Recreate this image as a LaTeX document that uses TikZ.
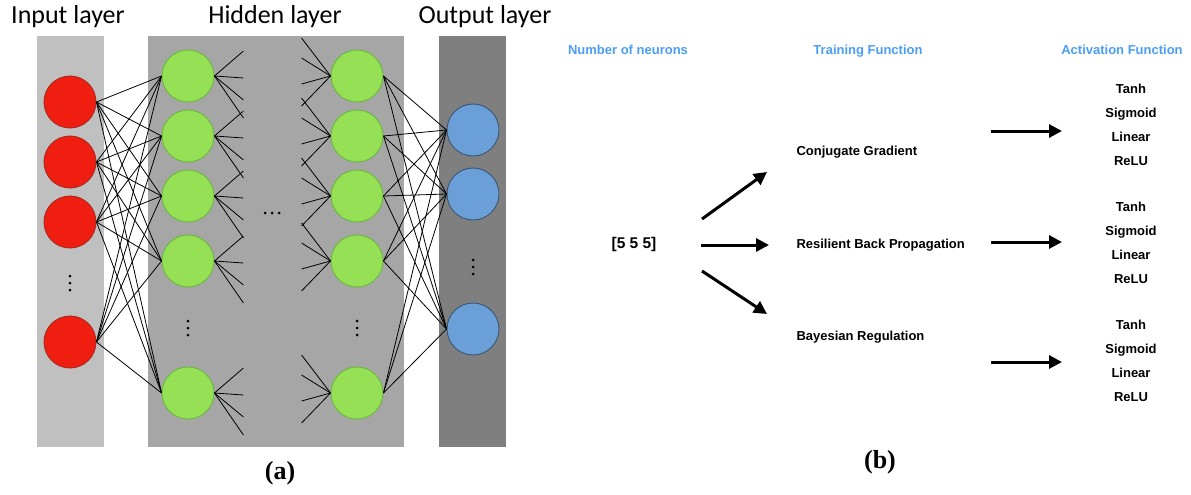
\documentclass[tikz,border=0pt]{standalone}
\usepackage{fontspec}
\usepackage{tikz}
\usetikzlibrary{arrows.meta}
\newfontfamily\carlito{Carlito}
\newfontfamily\arialf{Liberation Sans}
\newfontfamily\serifb{Liberation Serif}
\definecolor{rojo}{RGB}{240,30,16}
\definecolor{rojoborde}{RGB}{170,40,30}
\definecolor{verde}{RGB}{149,224,85}
\definecolor{verdeborde}{RGB}{105,185,60}
\definecolor{azul}{RGB}{106,159,216}
\definecolor{azulborde}{RGB}{60,85,115}
\definecolor{titulo}{RGB}{74,158,245}
\definecolor{grisin}{RGB}{192,192,192}
\definecolor{grishid}{RGB}{166,166,166}
\definecolor{grisout}{RGB}{127,127,127}

\begin{document}
\begin{tikzpicture}[x=1pt,y=-1pt,
% Estilo de las neuronas
neu/.style={circle, inner sep=0pt, minimum size=52pt, line width=0.9pt},
entrada/.style={neu, draw=rojoborde, fill=rojo},
oculta/.style={neu, draw=verdeborde, fill=verde},
salida/.style={neu, draw=azulborde, fill=azul},
% Estilo de los textos
capa/.style={font=\carlito\fontsize{26}{30}\selectfont, anchor=base},
titulo/.style={font=\arialf\bfseries\fontsize{13}{15}\selectfont, text=titulo, anchor=base},
texto/.style={font=\arialf\bfseries\fontsize{13}{15}\selectfont, anchor=base},
subfig/.style={font=\serifb\bfseries\fontsize{26}{30}\selectfont},
% Estilo de las conexiones
con/.style={line width=0.8pt},
% Estilo de las flechas
flecha/.style={-{Triangle[length=13pt,width=13pt]}, line width=3pt},
]
\useasboundingbox (0,0) rectangle (1191,495);

% Capas
\fill[grisin] (37,36) rectangle (104,447);
\fill[grishid] (148,36) rectangle (404,447);
\fill[grisout] (439,36) rectangle (506,447);
\node[capa] (t-in) at (68,24) {Input layer};
\node[capa] (t-hid) at (275,24) {Hidden layer};
\node[capa] (t-out) at (485,24) {Output layer};

% Neuronas
\node[entrada] (in1) at (70,102) {};
\node[entrada] (in2) at (70,162) {};
\node[entrada] (in3) at (70,222) {};
\node[entrada] (in4) at (70,342) {};
\foreach \i/\y in {1/76, 2/136, 3/196, 4/261, 5/393} {
  \node[oculta] (ha\i) at (188,\y) {};
  \node[oculta] (hb\i) at (357,\y) {};
}
\node[salida] (out1) at (473,130) {};
\node[salida] (out2) at (473,194) {};
\node[salida] (out3) at (473,329) {};

% Puntos
\foreach \x/\y in {70/283, 188/328, 357/328, 473/267}
  \foreach \d in {-7,0,7}
    \fill (\x,\y+\d) circle (1.5pt);
\foreach \d in {-7,0,7}
  \fill (272+\d,213) circle (1.5pt);

% Conexiones
\foreach \i in {1,2,3,4}
  \foreach \j in {1,...,5}
    \draw[con] (in\i.east) -- (ha\j.west);
\foreach \j in {1,...,5}
  \foreach \k in {1,2,3}
    \draw[con] (hb\j.east) -- (out\k.west);
\foreach \j in {1,...,5} {
  \foreach \d in {-25,2,24,42}
    \draw[con] (ha\j.east) -- ++(29,\d);
  \foreach \d in {-38,-18,8,30}
    \draw[con] (hb\j.west) -- ++(-29,\d);
}

% Parte (b)
\node[titulo] (t-num) at (628,55) {Number of neurons};
\node[titulo] (t-ent) at (868,55) {Training Function};
\node[titulo] (t-act) at (1122,55) {Activation Function};

\node[font=\arialf\bfseries\fontsize{15.5}{18}\selectfont, anchor=base] (n555) at (634,248.5) {[5 5 5]};
\node[texto, anchor=base west] (cg) at (793,155) {Conjugate Gradient};
\node[texto, anchor=base west] (rbp) at (793,248) {Resilient Back Propagation};
\node[texto, anchor=base west] (br) at (793,340) {Bayesian Regulation};

\foreach \g/\y in {1/89, 2/207, 3/325} {
  \node[texto] (act\g-1) at (1131,\y+4.7) {Tanh};
  \node[texto] (act\g-2) at (1131,\y+28.7) {Sigmoid};
  \node[texto] (act\g-3) at (1131,\y+52.7) {Linear};
  \node[texto] (act\g-4) at (1131,\y+76.7) {ReLU};
}

% Flechas
\coordinate (f1a) at (702,219); \coordinate (f1b) at (767,172);
\coordinate (f2a) at (701,245); \coordinate (f2b) at (769,245);
\coordinate (f3a) at (702,271); \coordinate (f3b) at (767,314);
\draw[flecha] (f1a) -- (f1b);
\draw[flecha] (f2a) -- (f2b);
\draw[flecha] (f3a) -- (f3b);
\coordinate (g1a) at (991,131); \coordinate (g1b) at (1062,131);
\coordinate (g2a) at (991,242); \coordinate (g2b) at (1062,242);
\coordinate (g3a) at (991,362); \coordinate (g3b) at (1062,362);
\draw[flecha] (g1a) -- (g1b);
\draw[flecha] (g2a) -- (g2b);
\draw[flecha] (g3a) -- (g3b);

% Subfiguras
\node[subfig] (sa) at (280,473) {(a)};
\node[subfig] (sb) at (880,462) {(b)};
\end{tikzpicture}
\end{document}
